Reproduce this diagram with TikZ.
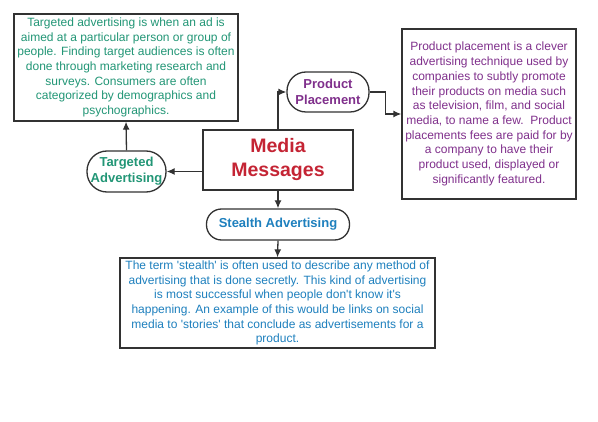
\documentclass[tikz,border=0pt]{standalone}
\usepackage{fontspec}
\setmainfont{Liberation Sans}
\usepackage{tikz}
\usetikzlibrary{arrows.meta}

\definecolor{tealtxt}{RGB}{34,150,118}
\definecolor{purpletxt}{RGB}{128,48,140}
\definecolor{redtxt}{RGB}{196,36,52}
\definecolor{bluetxt}{RGB}{30,128,190}
\definecolor{edge}{RGB}{50,50,50}

\newcommand{\sq}{\textquotesingle}

\tikzset{
  infobox/.style={draw=edge, line width=1.3pt, fill=white, align=center, inner sep=2pt,
    font=\fontsize{12}{14.7}\selectfont},
  pill/.style={draw=edge, line width=1.3pt, fill=white, align=center, inner sep=1pt,
    font=\bfseries\fontsize{13}{16}\selectfont},
  link/.style={draw=edge, line width=1.3pt, -{Latex[length=8pt,width=7pt]}}
}

\begin{document}
\begin{tikzpicture}[x=1pt,y=-1pt]
\pgfmathsetmacro{\MX}{278}
\pgfmathsetmacro{\MY}{160}
\useasboundingbox (0,0) rectangle (598,422);

\node[draw=edge, line width=1.3pt, minimum width=150pt, minimum height=60pt, align=center,
  text=redtxt, font=\bfseries\fontsize{19.5}{24}\selectfont] (media) at (\MX,\MY) {Media\\Messages};

% targeted advertising
\node[infobox, text=tealtxt, minimum width=224pt, minimum height=107pt] (tbox) at (126,67.5)
  {Targeted advertising is when an ad is\\aimed at a particular person or group of\\people. Finding target audiences is often\\done through marketing research and\\surveys. Consumers are often\\categorized by demographics and\\psychographics.};
\node[pill, text=tealtxt, minimum width=79pt, minimum height=41pt, rounded corners=20pt] (tpill) at (126.5,171.5)
  {Targeted\\Advertising};

% product placement
\node[pill, text=purpletxt, minimum width=82pt, minimum height=40pt, rounded corners=19pt] (ppill) at (328,92)
  {Product\\Placement};
\node[infobox, text=purpletxt, minimum width=174pt, minimum height=170pt] (pbox) at (489,114)
  {Product placement is a clever\\advertising technique used by\\companies to subtly promote\\their products on media such\\as television, film, and social\\media, to name a few.\ \ Product\\placements fees are paid for by\\a company to have their\\product used, displayed or\\significantly featured.};

% stealth advertising
\node[pill, text=bluetxt, minimum width=143pt, minimum height=31pt, rounded corners=15pt] (spill) at (\MX,224.5)
  {Stealth Advertising};
\node[infobox, text=bluetxt, minimum width=315pt, minimum height=90pt] (sbox) at (277.5,303)
  {The term \sq stealth\sq\ is often used to describe any method of\\advertising that is done secretly. This kind of advertising\\is most successful when people don\sq t know it\sq s\\happening. An example of this would be links on social\\media to \sq stories\sq\ that conclude as advertisements for a\\product.};

\draw[link] (media.west |- tpill.east) -- (tpill.east);
\draw[link] (tpill.north) -- (tbox.south);
\draw[link] (media.north) |- (ppill.west);
\draw[link] (ppill.east) -- ++(16,0) |- (pbox.west);
\draw[link] (media.south) -- (spill.north);
\draw[link] (spill.south) -- (sbox.north);
\end{tikzpicture}
\end{document}
